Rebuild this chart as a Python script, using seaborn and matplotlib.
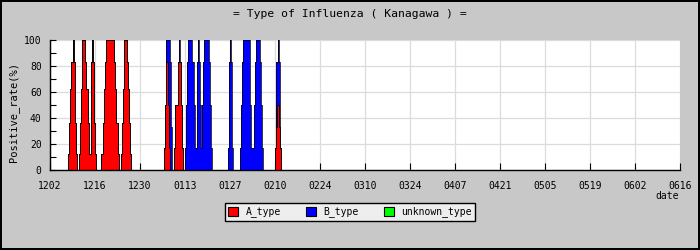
import numpy as np
import pandas as pd
import matplotlib
matplotlib.use("Agg")
import matplotlib.pyplot as plt
from matplotlib.patches import Patch
import seaborn as sns

# ---- data (positive rate %, sampled every 8 hours starting 5 days after 12/02) ----
categories = ["A_type", "B_type", "unknown_type"]
colors = ["#ff0000", "#0000ff", "#00ff00"]
tick_labels = ["1202", "1216", "1230", "0113", "0127", "0210", "0224", "0310",
               "0324", "0407", "0421", "0505", "0519", "0602", "0616"]
start_day = 5          # first sample, days after 12/02
step_day = 1 / 3       # sampling interval (days)

a_rate = [
    0, 0, 12, 36, 62, 83, 100, 83, 36, 12,
    0, 0, 12, 36, 62, 100, 100, 100, 83, 62,
    36, 12, 12, 83, 100, 83, 36, 12, 0, 0,
    0, 0, 0, 12, 36, 62, 83, 100, 100, 100,
    100, 100, 100, 100, 100, 83, 62, 36, 12, 0,
    0, 12, 36, 62, 100, 100, 100, 83, 62, 36,
    12, 0, 0, 0, 0, 0, 0, 0, 0, 0,
    0, 0, 0, 0, 0, 0, 0, 0, 0, 0,
    0, 0, 0, 0, 0, 0, 0, 0, 0, 0,
    0, 17, 50, 83, 83, 50, 17, 0, 0, 0,
    0, 17, 50, 50, 83, 83, 83, 50, 17, 0,
    0, 0, 0, 0, 0, 0, 0, 0, 0, 0,
    0, 0, 0, 0, 0, 0, 0, 0, 0, 0,
    0, 0, 0, 0, 0, 0, 0, 0, 0, 0,
    0, 0, 0, 0, 0, 0, 0, 0, 0, 0,
    0, 0, 0, 0, 0, 0, 0, 0, 0, 0,
    0, 0, 0, 0, 0, 0, 0, 0, 0, 0,
    0, 0, 0, 0, 0, 0, 0, 0, 0, 0,
    0, 0, 0, 0, 0, 0, 0, 0, 0, 0,
    0, 0, 0, 0, 0, 17, 33, 50, 50, 33,
    17, 0, 0, 0, 0,
]
b_rate = [
    0, 0, 0, 0, 0, 0, 0, 0, 0, 0,
    0, 0, 0, 0, 0, 0, 0, 0, 0, 0,
    0, 0, 0, 0, 0, 0, 0, 0, 0, 0,
    0, 0, 0, 0, 0, 0, 0, 0, 0, 0,
    0, 0, 0, 0, 0, 0, 0, 0, 0, 0,
    0, 0, 0, 0, 0, 0, 0, 0, 0, 0,
    0, 0, 0, 0, 0, 0, 0, 0, 0, 0,
    0, 0, 0, 0, 0, 0, 0, 0, 0, 0,
    0, 0, 0, 0, 0, 0, 0, 0, 0, 0,
    0, 0, 0, 17, 17, 50, 83, 83, 33, 0,
    0, 0, 0, 0, 0, 17, 0, 0, 0, 0,
    0, 17, 50, 83, 100, 100, 100, 100, 83, 50,
    17, 17, 83, 100, 83, 50, 17, 50, 83, 100,
    100, 100, 100, 83, 50, 17, 0, 0, 0, 0,
    0, 0, 0, 0, 0, 0, 0, 0, 0, 0,
    0, 17, 83, 100, 83, 17, 0, 0, 0, 0,
    0, 0, 17, 50, 83, 100, 100, 100, 100, 100,
    100, 100, 50, 17, 17, 50, 83, 100, 100, 100,
    100, 83, 50, 17, 0, 0, 0, 0, 0, 0,
    0, 0, 0, 0, 0, 0, 50, 33, 50, 50,
    0, 0, 0, 0, 0,
]
unknown_rate = [0] * len(a_rate)   # no unknown-type positives in the chart

# ---- stacked layers on the sample grid ----
n = len(a_rate)
edges = start_day + np.arange(n + 1) * step_day
layers = [np.append(np.asarray(v, dtype=float), 0.0) for v in (a_rate, b_rate, unknown_rate)]
tops = np.cumsum(layers, axis=0)
bases = tops - np.asarray(layers)

outline = pd.DataFrame({
    "day": np.concatenate([edges, edges]),
    "top": np.concatenate([tops[0], tops[-1]]),
    "layer": ["A"] * (n + 1) + ["total"] * (n + 1),
})

# ---- figure ----
mono = "DejaVu Sans Mono"
fig = plt.figure(figsize=(7, 2.5), dpi=100)
fig.patch.set_facecolor("#c8c8c8")
fig.patch.set_edgecolor("black")
fig.patch.set_linewidth(1.5)
ax = fig.add_axes([50 / 700, 1 - 170 / 250, 630 / 700, 130 / 250])
ax.set_facecolor("white")

for base, top, col in zip(bases, tops, colors):
    ax.fill_between(edges, base, top, step="post", facecolor=col,
                    linewidth=0, antialiased=False, zorder=3)

sns.lineplot(data=outline, x="day", y="top", units="layer", estimator=None,
             color="black", linewidth=0.55, drawstyle="steps-post",
             legend=False, ax=ax, zorder=4)

n_ticks = len(tick_labels)
ax.set_xlim(0, 14 * (n_ticks - 1))
ax.set_ylim(0, 100)
ax.set_xticks(np.arange(n_ticks) * 14)
ax.set_xticklabels(tick_labels, fontfamily=mono, fontsize=7)
ax.set_yticks(np.arange(0, 101, 20))
ax.set_yticks(np.arange(0, 101, 10), minor=True)
ax.set_yticklabels([str(v) for v in range(0, 101, 20)], fontfamily=mono, fontsize=7)
ax.tick_params(axis="x", direction="in", length=5, width=0.8, pad=8, colors="black")
ax.tick_params(axis="y", which="both", direction="in", length=4, width=0.8, pad=6)
ax.grid(True, which="major", color="#dcdcdc", linewidth=0.9, zorder=0)
ax.set_axisbelow(True)
for s in ["top", "right"]:
    ax.spines[s].set_visible(False)
for s in ["left", "bottom"]:
    ax.spines[s].set_color("black")
    ax.spines[s].set_linewidth(1)
    ax.spines[s].set_zorder(5)

ax.set_xlabel("")
ax.set_ylabel("Positive_rate(%)", fontfamily=mono, fontsize=7.5)
ax.yaxis.set_label_coords(-0.049, 0.45)

fig.text(0.5, 1 - 14 / 250, "= Type of Influenza ( Kanagawa ) =",
         ha="center", va="center", fontfamily=mono, fontsize=8.2)
fig.text(667 / 700, 1 - 196 / 250, "date", ha="center", va="center",
         fontfamily=mono, fontsize=7)

handles = [Patch(facecolor=c, edgecolor="black", linewidth=0.8) for c in colors]
leg = fig.legend(handles, categories, loc="center", bbox_to_anchor=(0.5, 1 - 212 / 250),
                 ncol=3, frameon=True, fancybox=False, edgecolor="black",
                 facecolor="#eeeeee", framealpha=1, prop={"family": mono, "size": 7},
                 handlelength=1.0, handleheight=1.0, handletextpad=0.8,
                 columnspacing=2.6, borderpad=0.35)
leg.get_frame().set_linewidth(1)

fig.savefig("out.png", dpi=100, facecolor=fig.get_facecolor(), edgecolor="black")
